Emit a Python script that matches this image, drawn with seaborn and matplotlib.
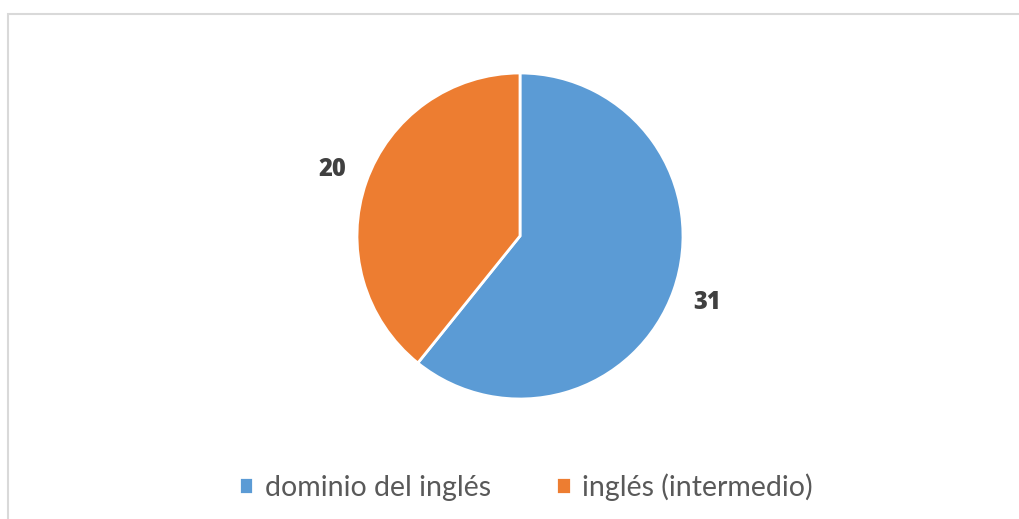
import matplotlib
matplotlib.use("Agg")
import matplotlib.pyplot as plt
import seaborn as sns
from matplotlib.patches import Rectangle

# Data
categories = ["dominio del inglés", "inglés (intermedio)"]
values = [31, 20]
colors = ["#5B9BD5", "#ED7D31"]

sns.set_style("white")
plt.rcParams["font.family"] = ["Lato", "DejaVu Sans"]

fig = plt.figure(figsize=(10.19, 5.19), dpi=100)

# chart border (only top and left visible in the crop)
fig.patches.append(Rectangle((8 / 1019, -0.1), 1.2, (519 - 14) / 519 + 0.1,
                             transform=fig.transFigure, fill=False,
                             edgecolor="#D9D9D9", linewidth=1.5, zorder=0))

ax = fig.add_axes([(520 - 163) / 1019, (519 - 399) / 519, 326 / 1019, 326 / 519])
total = sum(values)
wedges, texts = ax.pie(
    values, colors=colors, startangle=90, counterclock=False, radius=1,
    autopct=lambda p: f"{round(p * total / 100)}", pctdistance=1.22,
    wedgeprops=dict(edgecolor="white", linewidth=2),
    textprops=dict(fontsize=17, fontweight="heavy", color="#404040",
                   family=["Open Sans", "DejaVu Sans"]),
)[:2]
ax.set_xlim(-1, 1)
ax.set_ylim(-1, 1)
ax.set_aspect("equal")

fig.legend(wedges, categories, loc="center", bbox_to_anchor=(0.516, 0.062),
           ncol=2, frameon=False, fontsize=20.5, labelcolor="#595959",
           handlelength=0.5, handleheight=0.5, handletextpad=0.4, columnspacing=2.3)

fig.savefig("out.png", dpi=100)
